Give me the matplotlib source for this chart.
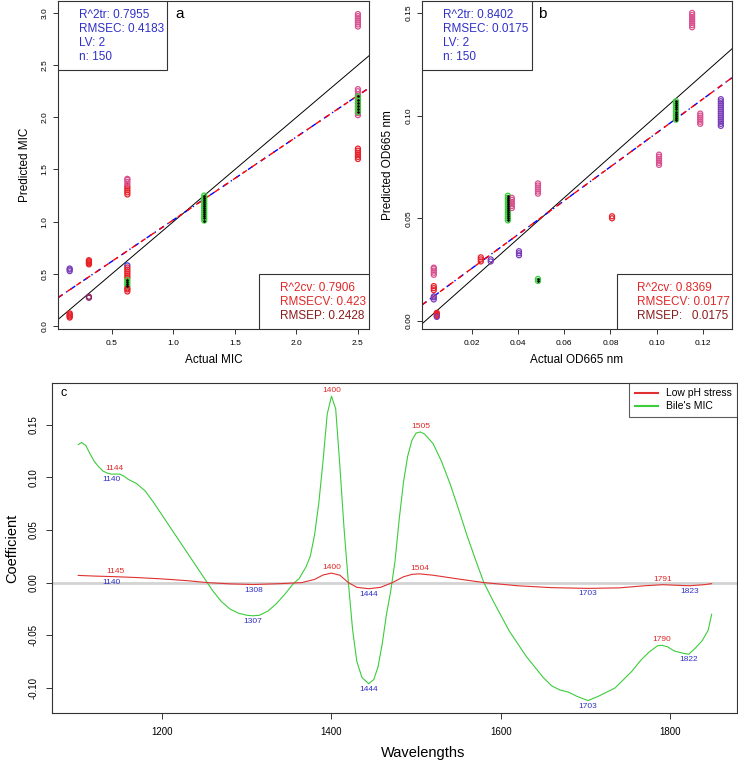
import numpy as np
import matplotlib
matplotlib.use("Agg")
import matplotlib.pyplot as plt
from matplotlib.patches import Rectangle

plt.rcParams['font.family'] = ['Liberation Sans', 'DejaVu Sans']
plt.rcParams['axes.unicode_minus'] = False

RED = '#e8202a'
PINK = '#d9508f'
PURPLE = '#7a3db8'
BLUE = '#3a3ae0'
GREEN = '#35d035'
DMAG = '#8e2461'
TXT_BLUE = '#3030c8'
TXT_RED = '#e02828'
TXT_DRED = '#8b1c1c'

# ---- panel a: bile MIC, actual vs predicted (clusters of stacked points)
a_actual = [0.156, 0.156, 0.3125, 0.3125, 0.625, 0.625, 0.625, 0.625, 0.625, 0.625,
            1.25, 2.5, 2.5, 2.5, 2.5]
a_pred = [
    [0.525, 0.54, 0.55],
    [0.08, 0.09, 0.10, 0.11, 0.12],
    [0.59, 0.60, 0.61, 0.62, 0.63],
    [0.27, 0.28],
    [1.26, 1.28, 1.30, 1.32, 1.34],
    [1.36, 1.38, 1.40, 1.41],
    [0.58],
    [0.46, 0.48, 0.50, 0.52, 0.54, 0.56],
    [0.38, 0.40, 0.42, 0.44],
    [0.33, 0.35, 0.36],
    [1.01, 1.03, 1.05, 1.07, 1.09, 1.11, 1.13, 1.15, 1.17, 1.19, 1.21, 1.23, 1.25],
    [2.87, 2.89, 2.91, 2.93, 2.95, 2.97, 2.99],
    [2.02, 2.04, 2.07, 2.10, 2.13, 2.16, 2.19, 2.22, 2.25, 2.27],
    [2.05, 2.08, 2.11, 2.14, 2.17, 2.20],
    [1.60, 1.62, 1.64, 1.66, 1.68, 1.70],
]
a_col = [PURPLE, RED, RED, DMAG, RED, PINK, BLUE, RED, GREEN, RED,
         GREEN, PINK, PINK, GREEN, RED]
a_fit = (0.222, 0.795)

# ---- panel b: OD665 under low pH stress
b_actual = [0.0037, 0.0037, 0.0037, 0.005, 0.005, 0.024, 0.0283, 0.0357, 0.0374,
            0.0405, 0.0487, 0.0487, 0.0807, 0.101, 0.1083, 0.1153, 0.1188, 0.1277]
b_pred = [
    [0.015, 0.016, 0.017],
    [0.0105, 0.0115, 0.012],
    [0.0225, 0.0235, 0.0245, 0.0255, 0.026],
    [0.0025, 0.003, 0.0035, 0.004],
    [0.002],
    [0.029, 0.030, 0.031],
    [0.029, 0.030],
    [0.049, 0.050, 0.051, 0.052, 0.053, 0.054, 0.055, 0.056, 0.057, 0.058, 0.059, 0.060, 0.061],
    [0.055, 0.056, 0.057, 0.058, 0.059, 0.060],
    [0.032, 0.033, 0.034],
    [0.062, 0.063, 0.064, 0.065, 0.066, 0.067],
    [0.0195, 0.0205],
    [0.050, 0.051],
    [0.076, 0.077, 0.078, 0.079, 0.080, 0.081],
    [0.098, 0.099, 0.100, 0.101, 0.102, 0.103, 0.104, 0.105, 0.106, 0.107],
    [0.143, 0.144, 0.145, 0.146, 0.147, 0.148, 0.149, 0.150],
    [0.096, 0.097, 0.098, 0.099, 0.100, 0.101],
    [0.095, 0.096, 0.097, 0.098, 0.099, 0.100, 0.101, 0.102, 0.103, 0.104, 0.105, 0.106, 0.107, 0.108],
]
b_col = [RED, PURPLE, PINK, RED, PURPLE, RED, PURPLE, GREEN, PINK, PURPLE,
         PINK, GREEN, RED, PINK, GREEN, PINK, PINK, PURPLE]
b_fit = (0.009, 0.826)

# ---- panel c: regression coefficients
wl_bile = [1101, 1105, 1110, 1115, 1120, 1125, 1130, 1135, 1140, 1145, 1150, 1155, 1160,
           1170, 1180, 1190, 1200, 1210, 1220, 1230, 1240, 1250, 1260, 1270, 1280, 1290,
           1300, 1307, 1315, 1325, 1335, 1345, 1355, 1362, 1370, 1375, 1380, 1385, 1390,
           1395, 1400, 1405, 1410, 1415, 1420, 1425, 1430, 1436, 1444, 1450, 1455, 1460,
           1465, 1470, 1475, 1480, 1485, 1490, 1495, 1500, 1505, 1510, 1520, 1530, 1540,
           1550, 1560, 1570, 1580, 1590, 1600, 1610, 1620, 1630, 1640, 1650, 1660, 1670,
           1680, 1690, 1703, 1715, 1725, 1735, 1745, 1755, 1765, 1775, 1785, 1790, 1797,
           1805, 1815, 1822, 1830, 1838, 1845, 1849]
coef_bile = [0.131, 0.133, 0.130, 0.122, 0.115, 0.110, 0.106, 0.104, 0.103, 0.103, 0.103,
             0.101, 0.098, 0.094, 0.087, 0.076, 0.064, 0.052, 0.040, 0.028, 0.016, 0.004,
             -0.008, -0.018, -0.025, -0.029, -0.031, -0.0315, -0.031, -0.027, -0.020,
             -0.011, -0.001, 0.004, 0.015, 0.025, 0.045, 0.075, 0.115, 0.160, 0.177, 0.165,
             0.110, 0.050, 0.000, -0.045, -0.075, -0.090, -0.096, -0.092, -0.080, -0.058,
             -0.030, -0.008, 0.020, 0.060, 0.095, 0.120, 0.135, 0.142, 0.143, 0.141, 0.132,
             0.115, 0.094, 0.070, 0.045, 0.022, 0.000, -0.016, -0.031, -0.046, -0.058,
             -0.070, -0.080, -0.090, -0.098, -0.102, -0.104, -0.108, -0.112, -0.108, -0.104,
             -0.100, -0.092, -0.084, -0.074, -0.066, -0.060, -0.0595, -0.061, -0.065,
             -0.067, -0.068, -0.062, -0.055, -0.045, -0.030]
wl_ph = [1101, 1120, 1145, 1170, 1200, 1230, 1253, 1280, 1308, 1340, 1365, 1380, 1390,
         1400, 1410, 1420, 1430, 1444, 1458, 1472, 1485, 1495, 1504, 1520, 1545, 1580,
         1620, 1660, 1703, 1740, 1770, 1791, 1810, 1823, 1840, 1849]
coef_ph = [0.0068, 0.0062, 0.0056, 0.0048, 0.0035, 0.0018, 0.0, -0.0012, -0.0018, -0.0010,
           0.0, 0.0030, 0.0072, 0.0090, 0.0070, 0.0, -0.0045, -0.0058, -0.0045, 0.0,
           0.0055, 0.0078, 0.0083, 0.0070, 0.0040, 0.0, -0.0030, -0.0048, -0.0055, -0.0050,
           -0.0030, -0.0020, -0.0026, -0.0030, -0.0020, -0.0010]

# peak labels: (wavelength, coefficient, label)
max_labels = [(1144, 0.103, '1144'), (1145, 0.0056, '1145'), (1400, 0.177, '1400'),
              (1400, 0.0090, '1400'), (1505, 0.143, '1505'), (1504, 0.0083, '1504'),
              (1791, -0.0020, '1791'), (1790, -0.0595, '1790')]
min_labels = [(1140, 0.103, '1140'), (1140, 0.0056, '1140'), (1307, -0.0315, '1307'),
              (1308, -0.0018, '1308'), (1444, -0.096, '1444'), (1444, -0.0058, '1444'),
              (1703, -0.112, '1703'), (1703, -0.0055, '1703'), (1822, -0.068, '1822'),
              (1823, -0.0030, '1823')]

fig = plt.figure(figsize=(7.38, 7.62), dpi=100)
ax_a = fig.add_axes([0.0786, 0.5682, 0.4214, 0.4305])
ax_b = fig.add_axes([0.5718, 0.5682, 0.4200, 0.4305])
ax_c = fig.add_axes([0.0705, 0.0643, 0.9282, 0.4331])

for ax in (ax_a, ax_b, ax_c):
    for sp in ax.spines.values():
        sp.set_color('#333333')
        sp.set_linewidth(0.8)


def center_labels(ax):
    ax.xaxis.label.set_va('center')
    ax.yaxis.label.set_va('center')
    ax.yaxis.label.set_ha('center')


def scatter_panel(ax, xs, ys, cols, fit):
    for x, yv, c in zip(xs, ys, cols):
        ax.scatter([x] * len(yv), yv, s=13, facecolors='none', edgecolors=c,
                   linewidths=0.9, zorder=3)
        if c == GREEN:
            ax.scatter([x] * len(yv), yv, s=0.8, color='black', zorder=4)
    ax.axline((0, 0), slope=1, color='black', lw=0.7, zorder=2)
    ax.axline((0, fit[0]), slope=fit[1], color='blue', lw=1.0,
              ls=(4, (1, 3, 4, 3)), zorder=2)
    ax.axline((0, fit[0]), slope=fit[1], color='red', lw=1.0, ls=(0, (4, 4)), zorder=2.5)
    ax.tick_params(axis='both', labelsize=6, length=3.6, width=0.7, color='#333333')
    ax.tick_params(axis='x', pad=4.5)
    ax.tick_params(axis='y', pad=3, labelrotation=90)


def info_boxes(ax, top_lines, bottom_lines, x_top, x_bot, box_top_w, box_bot_x):
    ax.add_patch(Rectangle((0, 0.790), box_top_w, 0.21, transform=ax.transAxes,
                           fill=True, facecolor='white', edgecolor='#333333', lw=0.8, zorder=5))
    ax.add_patch(Rectangle((box_bot_x, 0), 1 - box_bot_x, 0.167, transform=ax.transAxes,
                           fill=True, facecolor='white', edgecolor='#333333', lw=0.8, zorder=5))
    for yy, t in zip([0.957, 0.915, 0.872, 0.830], top_lines):
        ax.text(x_top, yy, t, transform=ax.transAxes, color=TXT_BLUE, fontsize=8.5,
                va='center', ha='left', zorder=6)
    for yy, (t, c) in zip([0.125, 0.082, 0.040], bottom_lines):
        ax.text(x_bot, yy, t, transform=ax.transAxes, color=c, fontsize=8.5,
                va='center', ha='left', zorder=6)


# panel a
scatter_panel(ax_a, a_actual, a_pred, a_col, a_fit)
ax_a.set_xlim(0.061, 2.59)
ax_a.set_ylim(-0.03, 3.115)
ax_a.set_xticks([0.5, 1.0, 1.5, 2.0, 2.5])
ax_a.set_yticks([0.0, 0.5, 1.0, 1.5, 2.0, 2.5, 3.0])
ax_a.set_yticklabels(['0.0', '0.5', '1.0', '1.5', '2.0', '2.5', '3.0'], rotation=90, va='center')
ax_a.set_xticklabels(['0.5', '1.0', '1.5', '2.0', '2.5'])
ax_a.set_xlabel('Actual MIC', fontsize=8.5)
ax_a.set_ylabel('Predicted MIC', fontsize=8.5)
center_labels(ax_a)
ax_a.xaxis.set_label_coords(0.5, -0.094)
ax_a.yaxis.set_label_coords(-0.106, 0.5)
info_boxes(ax_a, ['R^2tr: 0.7955', 'RMSEC: 0.4183', 'LV: 2', 'n: 150'],
           [('R^2cv: 0.7906', TXT_RED), ('RMSECV: 0.423', TXT_RED), ('RMSEP: 0.2428', TXT_DRED)],
           0.0675, 0.714, 0.350, 0.646)
ax_a.text(0.379, 0.96, 'a', transform=ax_a.transAxes, fontsize=11, va='center')

# panel b
scatter_panel(ax_b, b_actual, b_pred, b_col, b_fit)
ax_b.set_xlim(-0.0014, 0.1325)
ax_b.set_ylim(-0.0039, 0.1558)
ax_b.set_xticks([0.02, 0.04, 0.06, 0.08, 0.10, 0.12])
ax_b.set_xticklabels(['0.02', '0.04', '0.06', '0.08', '0.10', '0.12'])
ax_b.set_yticks([0.0, 0.05, 0.10, 0.15])
ax_b.set_yticklabels(['0.00', '0.05', '0.10', '0.15'], rotation=90, va='center')
ax_b.set_xlabel('Actual OD665 nm', fontsize=8.5)
ax_b.set_ylabel('Predicted OD665 nm', fontsize=8.5)
center_labels(ax_b)
ax_b.xaxis.set_label_coords(0.5, -0.094)
ax_b.yaxis.set_label_coords(-0.11, 0.5)
info_boxes(ax_b, ['R^2tr: 0.8402', 'RMSEC: 0.0175', 'LV: 2', 'n: 150'],
           [('R^2cv: 0.8369', TXT_RED), ('RMSECV: 0.0177', TXT_RED), ('RMSEP:   0.0175', TXT_DRED)],
           0.068, 0.694, 0.355, 0.629)
ax_b.text(0.374, 0.96, 'b', transform=ax_b.transAxes, fontsize=11, va='center')

# panel c
ax_c.axhline(0, color='#d3d3d3', lw=2, zorder=1)
ax_c.plot(wl_ph, coef_ph, color='#e03030', lw=0.8, label='Low pH stress', zorder=3)
ax_c.plot(wl_bile, coef_bile, color='#3ccc3c', lw=0.8, label="Bile's MIC", zorder=2)
for w, c, t in max_labels:
    ax_c.annotate(t, (w, c), xytext=(0, 1.5), textcoords='offset points', ha='center',
                  va='bottom', fontsize=6, color=TXT_RED)
for w, c, t in min_labels:
    ax_c.annotate(t, (w, c), xytext=(0, -1.5), textcoords='offset points', ha='center',
                  va='top', fontsize=6, color=TXT_BLUE)
ax_c.set_xlim(1070, 1879)
ax_c.set_ylim(-0.1238, 0.1895)
ax_c.set_xticks([1200, 1400, 1600, 1800])
ax_c.set_yticks([-0.10, -0.05, 0.0, 0.05, 0.10, 0.15])
ax_c.set_yticklabels(['-0.10', '-0.05', '0.00', '0.05', '0.10', '0.15'], rotation=90, va='center')
ax_c.tick_params(axis='both', labelsize=7, length=4, width=0.7, color='#333333')
ax_c.tick_params(axis='x', pad=6)
ax_c.tick_params(axis='y', pad=5.5)
ax_c.set_xlabel('Wavelengths', fontsize=10.5)
ax_c.set_ylabel('Coefficient', fontsize=10.5)
center_labels(ax_c)
ax_c.xaxis.set_label_coords(0.542, -0.121)
ax_c.yaxis.set_label_coords(-0.058, 0.5)
ax_c.text(0.012, 0.970, 'c', transform=ax_c.transAxes, fontsize=9, va='center')
leg = ax_c.legend(loc='upper right', fontsize=7.5, frameon=True, fancybox=False,
                  borderaxespad=0, handlelength=2.2, borderpad=0.5, labelspacing=0.3)
leg.get_frame().set_edgecolor('#333333')
leg.get_frame().set_linewidth(0.8)
for line in leg.get_lines():
    line.set_linewidth(1.5)

fig.savefig('out.png', dpi=100)
